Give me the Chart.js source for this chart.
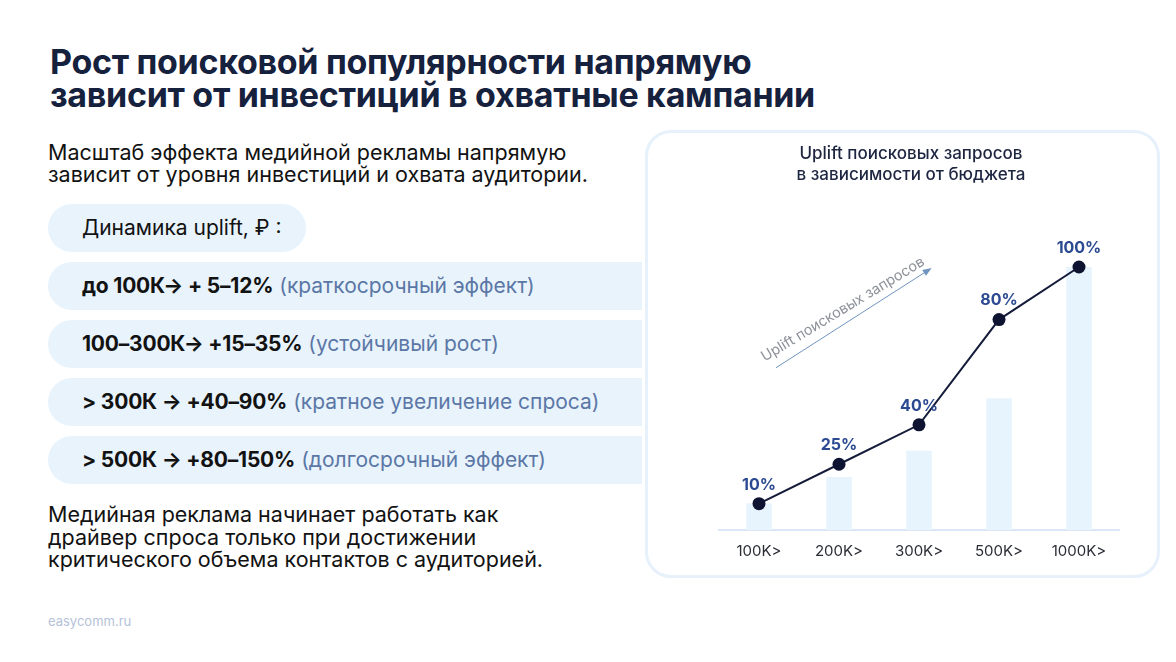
<!DOCTYPE html>
<html lang="ru">
<head>
<meta charset="utf-8">
<title>Uplift поисковых запросов</title>
<script src="https://cdn.jsdelivr.net/npm/chart.js@4.4.1/dist/chart.umd.min.js"></script>
<style>
  html, body { margin: 0; padding: 0; background: #fff; }
  body {
    width: 1176px; height: 662px; position: relative; overflow: hidden;
    font-family: Inter, "Noto Sans", sans-serif; color: #121212;
  }
  .title {
    position: absolute; left: 50px; top: 45px;
    font-size: 34px; font-weight: 700; line-height: 33px; color: #16213d;
    letter-spacing: -0.3px;
  }
  .lead { position: absolute; left: 48px; top: 141px; font-size: 21.5px; line-height: 22px; }
  .pill {
    position: absolute; left: 48px; width: 594px; height: 48px;
    background: #e8f3fc; border-radius: 24px 0 0 24px;
    box-sizing: border-box; padding-left: 34px;
    font-size: 21px; line-height: 48px; white-space: nowrap;
  }
  .pill.head { width: 258px; border-radius: 24px; }
  .pill b { font-weight: 700; letter-spacing: -0.2px; }
  .pill span { color: #5b77a6; }
  .outro { position: absolute; left: 48px; top: 503px; font-size: 21.5px; line-height: 22.5px; }
  .site { position: absolute; left: 48px; top: 613px; font-size: 13px; line-height: 16px; color: #b5c2da; }
  .card {
    position: absolute; left: 645px; top: 130px; width: 515px; height: 448px;
    border: 3px solid #e6f1fb; border-radius: 26px; box-sizing: border-box;
  }
  #chart-wrap { position: absolute; left: 645px; top: 130px; width: 515px; height: 448px; }
</style>
</head>
<body>
<div class="title">Рост поисковой популярности напрямую<br>зависит от инвестиций в охватные кампании</div>
<div class="lead">Масштаб эффекта медийной рекламы напрямую<br>зависит от уровня инвестиций и охвата аудитории.</div>

<div class="pill head" style="top:204px">Динамика uplift, ₽ :</div>
<div class="pill" style="top:262px"><b>до 100К→ + 5–12%</b> <span>(краткосрочный эффект)</span></div>
<div class="pill" style="top:320px"><b>100–300К→ +15–35%</b> <span>(устойчивый рост)</span></div>
<div class="pill" style="top:378px"><b>&gt; 300К → +40–90%</b> <span>(кратное увеличение спроса)</span></div>
<div class="pill" style="top:436px"><b>&gt; 500К → +80–150%</b> <span>(долгосрочный эффект)</span></div>

<div class="outro">Медийная реклама начинает работать как<br>драйвер спроса только при достижении<br>критического объема контактов с аудиторией.</div>
<div class="site">easycomm.ru</div>

<div class="card"></div>
<div id="chart-wrap"><canvas id="upliftChart"></canvas></div>

<script>
const budgets = ['100K>', '200K>', '300K>', '500K>', '1000K>'];
const barValues = [10, 20, 30, 50, 100];
const upliftValues = [10, 25, 40, 80, 100];
const chartTitle = ['Uplift поисковых запросов', 'в зависимости от бюджета'];
const arrowLabel = 'Uplift поисковых запросов';

// percent labels above the line points
const pointLabels = {
  id: 'pointLabels',
  afterDatasetsDraw(chart) {
    const ctx = chart.ctx;
    const meta = chart.getDatasetMeta(1);
    ctx.save();
    ctx.font = '700 16px Inter, sans-serif';
    ctx.fillStyle = '#2b4a91';
    ctx.textAlign = 'center';
    ctx.textBaseline = 'middle';
    meta.data.forEach((pt, i) => {
      ctx.fillText(upliftValues[i] + '%', pt.x, pt.y - 19);
    });
    ctx.restore();
  }
};

// slanted "growth" arrow with caption
const trendArrow = {
  id: 'trendArrow',
  beforeDatasetsDraw(chart) {
    const { ctx, chartArea: a } = chart;
    const w = a.right - a.left, h = a.bottom - a.top;
    const x1 = a.left + w * 0.1425, y1 = a.top + h * 0.383;
    const x2 = a.left + w * 0.5275, y2 = a.top + h * 0.008;
    const ang = Math.atan2(y2 - y1, x2 - x1);
    ctx.save();
    ctx.strokeStyle = '#6f94bf';
    ctx.fillStyle = '#6f94bf';
    ctx.lineWidth = 1;
    ctx.beginPath();
    ctx.moveTo(x1, y1);
    ctx.lineTo(x2, y2);
    ctx.stroke();
    ctx.translate(x2, y2);
    ctx.rotate(ang);
    ctx.beginPath();
    ctx.moveTo(2, 0);
    ctx.lineTo(-7, -3.5);
    ctx.lineTo(-7, 3.5);
    ctx.closePath();
    ctx.fill();
    ctx.restore();

    ctx.save();
    ctx.translate((x1 + x2) / 2, (y1 + y2) / 2);
    ctx.rotate(Math.atan2(-100, 165));
    ctx.font = '400 14.5px Inter, sans-serif';
    ctx.fillStyle = '#8d9199';
    ctx.textAlign = 'center';
    ctx.textBaseline = 'middle';
    ctx.fillText(arrowLabel, -4, -13);
    ctx.restore();
  }
};

new Chart(document.getElementById('upliftChart'), {
  data: {
    labels: budgets,
    datasets: [{
      type: 'bar',
      data: barValues,
      backgroundColor: '#e8f4fd',
      barThickness: 25,
      order: 2
    }, {
      type: 'line',
      data: upliftValues,
      borderColor: '#141c3a',
      borderWidth: 2,
      pointRadius: 6.5,
      pointBackgroundColor: '#0d1330',
      pointBorderWidth: 0,
      clip: false,
      order: 1
    }]
  },
  options: {
    responsive: true,
    maintainAspectRatio: false,
    animation: false,
    layout: { padding: { left: 58, right: 41, top: 0, bottom: 6 } },
    plugins: {
      legend: { display: false },
      tooltip: { enabled: false },
      title: {
        display: true,
        text: chartTitle,
        color: '#1d2540',
        font: { family: 'Inter', size: 17, weight: '500', lineHeight: 1.235 },
        padding: { top: 13, bottom: 82 }
      }
    },
    scales: {
      x: {
        grid: { display: false, drawTicks: false },
        border: { display: true, color: '#dbe7f7', width: 2 },
        ticks: { color: '#2a2d36', font: { family: 'Inter', size: 15 }, padding: 12 }
      },
      y: {
        min: 0, max: 100,
        grid: { display: false, drawTicks: false },
        border: { display: false },
        ticks: { display: false },
        afterFit(scale) { scale.width = 16; }
      }
    }
  },
  plugins: [pointLabels, trendArrow]
});
</script>
</body>
</html>
